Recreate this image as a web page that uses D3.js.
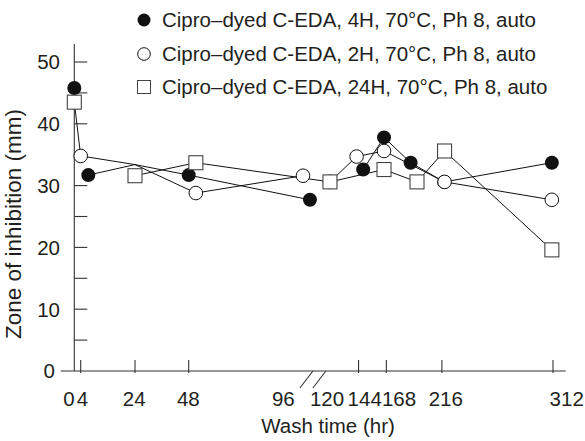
<!DOCTYPE html>
<html><head><meta charset="utf-8">
<script src="https://cdn.jsdelivr.net/npm/d3@7/dist/d3.min.js"></script>
<style>
html,body{margin:0;padding:0;background:#fff;}
svg{display:block;font-family:"Liberation Sans",Arial,Helvetica,sans-serif;}
</style></head>
<body>
<svg id="chart" width="585" height="441"></svg>
<script>
// ---- data ----
const seriesNames = [
  "Cipro\u2013dyed C-EDA, 4H, 70\u00B0C, Ph 8, auto",
  "Cipro\u2013dyed C-EDA, 2H, 70\u00B0C, Ph 8, auto",
  "Cipro\u2013dyed C-EDA, 24H, 70\u00B0C, Ph 8, auto"
];
// hours (null = break in the line)
const hours4H  = [0, null, 6.8, 24, 48, 102, null, 148, 166, 189, 218, 311];
const values4H = [45.8, null, 31.7, 33.4, 31.7, 27.7, null, 32.6, 37.8, 33.7, 30.6, 33.7];
const hours2H  = [0, 4, 24, 51, 96, null, 119.3, 142.3, 166, 218.3, 311];
const values2H = [43.5, 34.8, 33.4, 28.8, 31.6, null, 30.6, 34.7, 35.6, 30.6, 27.7];
const hours24H  = [0, null, 24, 51, 119.3, 166, 194.5, 218.3, 311];
const values24H = [43.5, null, 31.6, 33.7, 30.6, 32.6, 30.6, 35.6, 19.6];
// hours where the line bends but the original shows no marker
const lineOnly4H = [24];
const lineOnly2H = [24];
const yTicks = [5, 10, 15, 20, 25, 30, 35, 40, 45, 50];
const yLabels = [0, 10, 20, 30, 40, 50];
const xTicks = [4, 24, 48, 144, 168, 216, 312];
const xLabels = [0, 4, 24, 48, 96, 120, 144, 168, 216, 312];

// ---- layout ----
const svg = d3.select("#chart");
const ink = "#231f20";
const x = d3.scaleLinear().domain([0, 4, 24, 48, 96, 312]).range([74.3, 80.7, 135, 188.7, 303, 553]);
const y = d3.scaleLinear().domain([0, 50]).range([371, 62]);
// tick labels in the original sit slightly apart from the ticks
const xLab = d3.scaleLinear().domain(xLabels).range([69, 82.5, 134.2, 188.3, 283.3, 327, 364.7, 399, 445.8, 566.7]);

svg.append("rect").attr("width", 585).attr("height", 441).attr("fill", "#fff");

const ax = svg.append("g").attr("stroke", "#333").attr("stroke-width", 1.1).attr("fill", "none");
ax.append("line").attr("x1", x(0)).attr("x2", x(0)).attr("y1", y(0)).attr("y2", 44);
ax.append("line").attr("x1", 60.7).attr("x2", 565.7).attr("y1", y(0)).attr("y2", y(0));
ax.selectAll(".yt").data(yTicks).join("line")
  .attr("x1", x(0)).attr("x2", x(0) + 13).attr("y1", d => y(d)).attr("y2", d => y(d));
ax.selectAll(".xt").data(xTicks).join("line")
  .attr("x1", d => x(d)).attr("x2", d => x(d)).attr("y1", y(0) - 11).attr("y2", y(0) + 2);
const bx = (x(96) + x(120)) / 2;
[-7, 6].forEach(o => {
  ax.append("line").attr("x1", bx + o - 10).attr("y1", y(0) + 17).attr("x2", bx + o + 3).attr("y2", y(0));
});

const txt = svg.append("g").attr("fill", ink).attr("font-size", 20.5);
txt.selectAll(".yl").data(yLabels).join("text")
  .attr("x", d => d === 0 ? 55 : 60).attr("y", d => y(d)).attr("dy", "0.36em")
  .attr("text-anchor", "end").text(d => d);
txt.selectAll(".xl").data(xLabels).join("text")
  .attr("x", d => xLab(d)).attr("y", 405.5).attr("text-anchor", "middle").text(d => d);
txt.append("text").attr("x", 328).attr("y", 433).attr("text-anchor", "middle").text("Wash time (hr)");
txt.append("text").attr("transform", "translate(20.5,224) rotate(-90)").attr("text-anchor", "middle")
  .attr("font-size", 22.5).text("Zone of inhibition (mm)");

// ---- lines ----
function pts(h, v, skip) { return h.map((d, i) => ({h: d, v: v[i], m: d !== null && !(skip || []).includes(d)})); }
const s4 = pts(hours4H, values4H, lineOnly4H), s2 = pts(hours2H, values2H, lineOnly2H), s24 = pts(hours24H, values24H);
const line = d3.line().defined(d => d.h !== null).x(d => x(d.h)).y(d => y(d.v));
const lg = svg.append("g").attr("fill", "none").attr("stroke", "#111").attr("stroke-width", 1);
[s4, s2, s24].forEach(s => lg.append("path").attr("d", line(s)));

// ---- markers ----
const mk = svg.append("g");
mk.selectAll(".f").data(s4.filter(d => d.m)).join("circle")
  .attr("cx", d => x(d.h)).attr("cy", d => y(d.v)).attr("r", 7).attr("fill", "#111");
mk.selectAll(".o").data(s2.filter(d => d.m)).join("circle")
  .attr("cx", d => x(d.h)).attr("cy", d => y(d.v)).attr("r", 6.8)
  .attr("fill", "#fff").attr("stroke", "#111").attr("stroke-width", 1);
mk.selectAll(".s").data(s24.filter(d => d.m)).join("rect")
  .attr("x", d => x(d.h) - 7).attr("y", d => y(d.v) - 7).attr("width", 14).attr("height", 14)
  .attr("fill", "#fff").attr("stroke", "#444").attr("stroke-width", 1.1);

// ---- legend ----
const leg = svg.append("g").attr("transform", "translate(144,0)");
const rows = [20, 54, 87];
leg.append("circle").attr("cx", 0).attr("cy", rows[0]).attr("r", 6.5).attr("fill", "#111");
leg.append("circle").attr("cx", 0).attr("cy", rows[1]).attr("r", 6.3).attr("fill", "#fff").attr("stroke", "#111");
leg.append("rect").attr("x", -6.5).attr("y", rows[2] - 6.5).attr("width", 13).attr("height", 13)
  .attr("fill", "#fff").attr("stroke", "#444");
leg.selectAll("text").data(seriesNames).join("text")
  .attr("x", 18).attr("y", (d, i) => rows[i]).attr("dy", "0.36em")
  .attr("font-size", 20.5).attr("fill", ink).text(d => d);
</script>
</body></html>
